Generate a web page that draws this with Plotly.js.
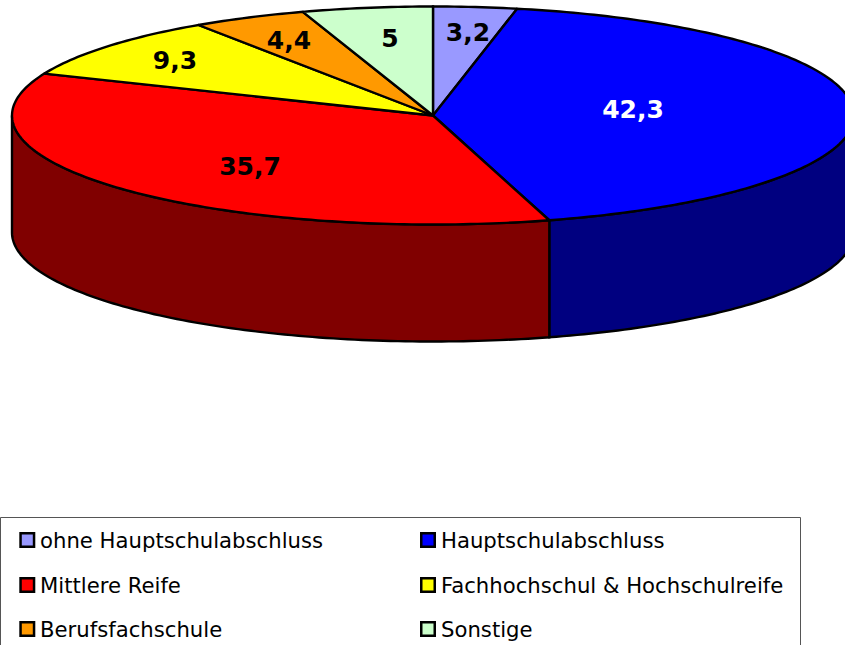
<!DOCTYPE html>
<html><head><meta charset="utf-8">
<script src="https://cdn.plot.ly/plotly-3.0.1.min.js"></script>
<style>html,body{margin:0;padding:0;background:#fff;overflow:hidden}</style>
</head><body><div id="chart" style="width:845px;height:645px"></div>
<script>
const categories = ["ohne Hauptschulabschluss","Hauptschulabschluss","Mittlere Reife","Fachhochschul & Hochschulreife","Berufsfachschule","Sonstige"];
const values = [3.2,42.3,35.7,9.3,4.4,5];
const valueLabels = ["3,2","42,3","35,7","9,3","4,4","5"];
const faceColors = ["#9999ff","#0000ff","#ff0000","#ffff00","#ff9900","#ccffcc"];
const sideColors = ["#4c4c80","#000080","#800000","#808000","#804c00","#668066"];
const labelColors = ["#000","#fff","#000","#000","#000","#000"];
const labelX = [468,633,250,175,289,390];
const labelY = [35,112,169,63,43,41];
const legendX = [27.3,428,27.3,428,27.3,428];
const legendY = [540,540,585,585,629,629];
const CX=433, CY=115.5, RX=421, RY=109, DEPTH=117;

const pt=(deg,dy=0)=>{const r=deg*Math.PI/180;return [CX+RX*Math.sin(r),CY-RY*Math.cos(r)+dy];};
const arc=(a,b,dy=0)=>{const out=[];const n=Math.max(2,Math.ceil(Math.abs(b-a)));for(let i=0;i<=n;i++)out.push(pt(a+(b-a)*i/n,dy));return out;};
const total=values.reduce((s,v)=>s+v,0);
let cum=0;
const spans=values.map(v=>{const a=cum/total*360;cum+=v;return [a,cum/total*360];});
const traces=[];
const poly=(pts,fill)=>({type:"scatter",mode:"lines",x:pts.map(p=>p[0]),y:pts.map(p=>p[1]),fill:"toself",fillcolor:fill,
  line:{color:"#000",width:2.4,simplify:false},hoverinfo:"skip",showlegend:false});
// side walls
spans.forEach((s,i)=>{const a=Math.max(s[0],90),b=Math.min(s[1],270);if(b>a){
  const pts=arc(a,b).concat(arc(b,a,DEPTH));pts.push(pts[0]);traces.push(poly(pts,sideColors[i]));}});
// top faces
spans.forEach((s,i)=>{const pts=[[CX,CY]].concat(arc(s[0],s[1]));pts.push([CX,CY]);traces.push(poly(pts,faceColors[i]));});
// value labels
traces.push({type:"scatter",mode:"text",x:labelX,y:labelY,text:valueLabels,textposition:"middle center",
  textfont:{family:"DejaVu Sans",size:25,weight:700,color:labelColors},hoverinfo:"skip",showlegend:false});
// legend swatches
traces.push({type:"scatter",mode:"markers",x:legendX,y:legendY,hoverinfo:"skip",showlegend:false,
  marker:{symbol:"square",size:13.5,color:faceColors,line:{color:"#000",width:2.5}}});
const annotations=categories.map((c,i)=>({x:legendX[i]+11,y:legendY[i],yshift:-0.5,xref:"x",yref:"y",text:c,showarrow:false,xanchor:"left",yanchor:"middle",
  font:{family:"DejaVu Sans",size:21.2,color:"#000"}}));
const layout={width:845,height:645,margin:{l:0,r:0,t:0,b:0},paper_bgcolor:"#fff",plot_bgcolor:"#fff",showlegend:false,
  xaxis:{range:[0,845],visible:false,fixedrange:true},
  yaxis:{range:[645,0],visible:false,fixedrange:true},
  shapes:[{type:"rect",xref:"x",yref:"y",x0:0.5,x1:800.5,y0:517.5,y1:700,line:{color:"#555",width:1},fillcolor:"#fff",layer:"below"}],
  annotations};
Plotly.newPlot("chart",traces,layout,{displayModeBar:false,staticPlot:true});
</script></body></html>
